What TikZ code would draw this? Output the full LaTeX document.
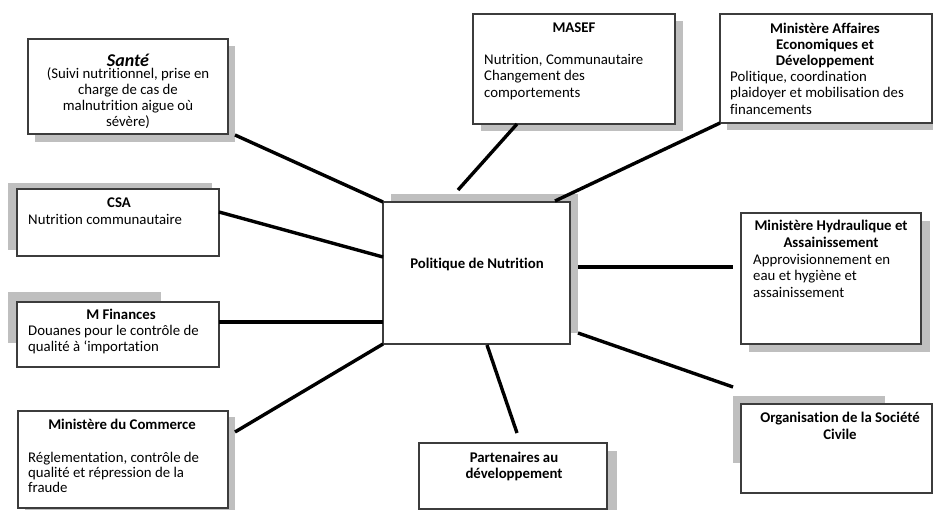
\documentclass[tikz,border=0pt]{standalone}
\usepackage{fontspec}
\setmainfont{Carlito}[Ligatures={TeX,NoCommon}]
\usetikzlibrary{calc}
\definecolor{shadowgray}{RGB}{191,191,191}
\definecolor{framegray}{RGB}{60,60,60}
\newcommand\bodyfont{\fontsize{14.8}{16.6}\selectfont}
\newcommand\tightfont{\fontsize{14.8}{15}\selectfont}
\begin{document}
\begin{tikzpicture}[x=1pt,y=-1pt,
  boxframe/.style={draw=framegray,line width=1.1pt,fill=white,rectangle,inner sep=0pt,outer sep=0pt,anchor=north west},
  link/.style={line width=3.4pt,black},
  ttl/.style={font=\bfseries\bodyfont,inner sep=0pt,align=center},
  txt/.style={font=\bodyfont,inner sep=0pt,align=left},
]
\useasboundingbox (0,0) rectangle (933,510);
% shadows
\fill[shadowgray] (35,46) rectangle (235,142);
\fill[shadowgray] (8,183) rectangle (212,250);
\fill[shadowgray] (8,292) rectangle (161,343);
\fill[shadowgray] (25,417) rectangle (235,510);
\fill[shadowgray] (481,21) rectangle (683,131);
\fill[shadowgray] (391,194) rectangle (578,333);
\fill[shadowgray] (727,21) rectangle (933,130);
\fill[shadowgray] (749,221) rectangle (930,352);
\fill[shadowgray] (733,396) rectangle (885,463);
\fill[shadowgray] (427,451) rectangle (617,510);
% boxes
\node[boxframe,minimum width=200pt,minimum height=95pt] (sante) at (28,39) {};
\node[boxframe,minimum width=202pt,minimum height=67pt] (csa) at (17,189) {};
\node[boxframe,minimum width=202pt,minimum height=65pt] (fin) at (17,302) {};
\node[boxframe,minimum width=210pt,minimum height=97pt] (com) at (18,411) {};
\node[boxframe,minimum width=202pt,minimum height=110pt] (masef) at (473,14) {};
\node[boxframe,minimum width=187pt,minimum height=142pt] (center) at (383,202) {};
\node[boxframe,minimum width=212pt,minimum height=109pt] (mae) at (720,14) {};
\node[boxframe,minimum width=180pt,minimum height=131pt] (hyd) at (741,213) {};
\node[boxframe,minimum width=191pt,minimum height=89pt] (org) at (741,404) {};
\node[boxframe,minimum width=188pt,minimum height=66pt] (par) at (419,443) {};
% connectors
\draw[link] ($(sante.south east)+(7,1)$) -- (center.north west);
\draw[link] ($(csa.north east)+(0,23)$) -- ($(center.north west)+(0,55)$);
\draw[link] ($(fin.north east)+(0,20)$) -- ($(center.north west)+(0,120)$);
\draw[link] ($(com.north east)+(7,21)$) -- (center.south west);
\draw[link] ($(masef.south west)+(44,0)$) -- ($(center.north west)+(75,-12)$);
\draw[link] ($(center.north west)+(172,-1)$) -- (mae.south west);
\draw[link] ($(center.north east)+(8,65)$) -- ($(hyd.north west)+(-8,54)$);
\draw[link] ($(center.north east)+(8,131)$) -- ($(org.north west)+(-8,-17)$);
\draw[link] ($(center.south west)+(104,1)$) -- ($(par.north west)+(98,-10)$);
% texts
\node[txt,align=center,font=\fontsize{14.8}{15.8}\selectfont,anchor=north] (santeT) at (128,53)
  {\rule{0pt}{13pt}{\fontsize{18}{15.8}\selectfont\bfseries\itshape Santé}\\[-3pt]
   (Suivi nutritionnel, prise en\\charge de cas de\\malnutrition aigue où\\sévère)};
\node[ttl,anchor=base] (csaT) at (119,208) {CSA};
\node[txt,anchor=base west] (csaB) at (28,225) {Nutrition communautaire};
\node[ttl,anchor=base] (finT) at (121,319) {M Finances};
\node[txt,font=\tightfont,anchor=north west] (finB) at (28,324.5)
  {\strut Douanes pour le contrôle de\\qualité à ‘importation};
\node[ttl,anchor=base] (comT) at (122,429.5) {Ministère du Commerce};
\node[txt,font=\tightfont,anchor=north west] (comB) at (28,451.5)
  {\strut Réglementation, contrôle de\\qualité et répression de la\\fraude};
\node[ttl,anchor=base] (masefT) at (574,33) {MASEF};
\node[txt,anchor=north west] (masefB) at (484,52.4)
  {\strut Nutrition, Communautaire\\Changement des\\comportements};
\node[ttl,font=\bfseries\fontsize{14.8}{16}\selectfont,anchor=north] (maeT) at (825,21.8)
  {\strut Ministère Affaires\\Economiques et\\Développement};
\node[txt,anchor=north west] (maeB) at (730,69.4)
  {\strut Politique, coordination\\plaidoyer et mobilisation des\\financements};
\node[ttl,font=\bfseries\fontsize{14.8}{17}\selectfont,anchor=north] (hydT) at (831,218.1)
  {\strut Ministère Hydraulique et\\Assainissement};
\node[txt,anchor=north west] (hydB) at (753,252.4)
  {\strut Approvisionnement en\\eau et hygiène et\\assainissement};
\node[ttl,font=\bfseries\fontsize{14.8}{17}\selectfont,anchor=north] (orgT) at (840,410.1)
  {\strut Organisation de la Société\\Civile};
\node[ttl,font=\bfseries\fontsize{14.8}{16}\selectfont,anchor=north] (parT) at (514,450.8)
  {\strut Partenaires au\\développement};
\node[ttl,anchor=base] (centerT) at (477,269) {Politique de Nutrition};
\end{tikzpicture}
\end{document}
